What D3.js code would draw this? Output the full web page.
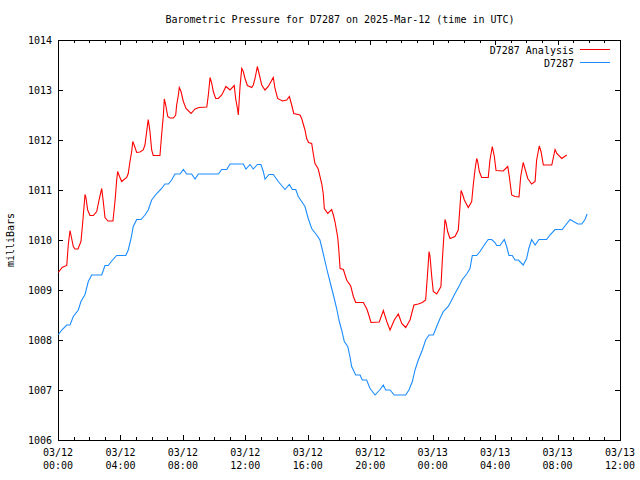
<!DOCTYPE html>
<html>
<head>
<meta charset="utf-8">
<script src="https://cdn.jsdelivr.net/npm/d3@7/dist/d3.min.js"></script>
<style>
  body { margin: 0; background: #fff; }
  svg text { font-family: "DejaVu Sans Mono", monospace; font-size: 10px; fill: #000; }
</style>
</head>
<body>
<svg id="chart" width="640" height="480"></svg>
<script>
// Hours since 03/12 00:00 UTC and pressure (mbar)
const analysisHours = [0.02,0.26,0.56,0.66,0.77,0.83,0.98,1.09,1.28,1.47,1.58,1.73,1.79,1.90,2.05,2.26,2.48,2.65,2.80,2.90,3.01,3.20,3.52,3.65,3.76,3.82,3.94,4.08,4.40,4.50,4.61,4.72,4.79,4.89,5.04,5.25,5.46,5.57,5.68,5.78,5.89,6.00,6.10,6.53,6.64,6.75,6.81,6.90,7.03,7.17,7.39,7.54,7.60,7.71,7.77,7.88,8.03,8.20,8.52,8.78,9.03,9.53,9.63,9.74,9.85,9.95,10.10,10.27,10.49,10.76,11.02,11.29,11.38,11.51,11.55,11.66,11.77,11.87,11.98,12.13,12.41,12.51,12.62,12.77,12.88,13.05,13.26,13.47,13.79,13.90,14.07,14.37,14.65,14.82,14.97,15.10,15.50,15.61,15.82,15.93,16.05,16.25,16.35,16.46,16.67,16.89,16.99,17.06,17.28,17.53,17.64,17.74,17.92,18.00,18.07,18.28,18.49,18.75,18.92,19.07,19.56,19.77,19.88,20.05,20.58,20.84,21.06,21.27,21.54,21.80,22.02,22.27,22.55,22.80,23.08,23.34,23.55,23.66,23.77,23.83,23.94,24.04,24.26,24.53,24.62,24.68,24.79,24.85,24.96,25.11,25.43,25.64,25.75,25.82,25.90,26.03,26.28,26.50,26.60,26.71,26.82,26.88,26.99,27.14,27.56,27.67,27.82,27.95,28.06,28.52,28.81,28.91,29.06,29.27,29.53,29.64,29.80,29.91,30.09,30.34,30.56,30.66,30.83,30.94,31.09,31.63,31.84,31.95,32.27,32.59];
const analysisValues = [1009.35,1009.45,1009.49,1009.91,1010.19,1010.10,1009.87,1009.82,1009.82,1009.97,1010.34,1010.91,1010.85,1010.60,1010.49,1010.49,1010.57,1010.83,1011.03,1010.77,1010.45,1010.38,1010.38,1010.77,1011.20,1011.37,1011.27,1011.17,1011.25,1011.33,1011.57,1011.77,1011.97,1011.89,1011.75,1011.76,1011.80,1011.90,1012.17,1012.41,1012.17,1011.80,1011.69,1011.69,1012.11,1012.50,1012.82,1012.70,1012.47,1012.44,1012.44,1012.50,1012.70,1012.90,1013.05,1012.97,1012.77,1012.63,1012.53,1012.62,1012.65,1012.66,1012.90,1013.25,1013.13,1012.97,1012.83,1012.83,1012.90,1013.07,1013.00,1013.09,1012.83,1012.60,1012.50,1013.07,1013.43,1013.37,1013.23,1013.09,1013.05,1013.10,1013.23,1013.47,1013.33,1013.10,1013.00,1013.07,1013.25,1013.03,1012.83,1012.78,1012.80,1012.87,1012.70,1012.53,1012.50,1012.43,1012.20,1012.03,1011.95,1011.93,1011.73,1011.53,1011.42,1011.13,1010.93,1010.63,1010.53,1010.61,1010.50,1010.37,1010.05,1009.75,1009.43,1009.41,1009.20,1009.08,1008.87,1008.75,1008.75,1008.63,1008.53,1008.35,1008.36,1008.59,1008.37,1008.20,1008.40,1008.52,1008.33,1008.25,1008.40,1008.70,1008.72,1008.75,1008.80,1009.27,1009.77,1009.67,1009.27,1008.97,1008.92,1009.07,1009.60,1009.90,1010.41,1010.35,1010.17,1010.03,1010.07,1010.20,1010.67,1010.99,1010.93,1010.80,1010.65,1010.77,1011.10,1011.40,1011.63,1011.57,1011.37,1011.25,1011.25,1011.60,1011.87,1011.67,1011.39,1011.38,1011.47,1011.27,1010.90,1010.87,1010.86,1011.27,1011.55,1011.43,1011.23,1011.12,1011.17,1011.60,1011.88,1011.77,1011.50,1011.50,1011.81,1011.73,1011.63,1011.70];

const obsHours = [0.02,0.24,0.56,0.77,0.98,1.30,1.47,1.73,1.94,2.16,2.80,3.01,3.22,3.44,3.76,4.34,4.50,4.68,4.82,5.04,5.32,5.57,5.78,6.00,6.32,6.64,6.85,7.07,7.28,7.49,7.82,8.03,8.24,8.56,8.78,8.99,10.27,10.49,10.81,11.02,11.87,12.04,12.30,12.51,12.77,13.00,13.15,13.26,13.52,13.79,14.11,14.54,14.82,15.01,15.23,15.39,15.61,15.82,16.03,16.25,16.57,16.78,16.99,17.21,17.42,17.64,17.85,18.02,18.17,18.34,18.56,18.70,18.81,19.07,19.35,19.49,19.77,19.99,20.31,20.63,20.84,20.99,21.27,21.54,22.27,22.48,22.70,22.87,23.08,23.34,23.55,23.77,24.04,24.26,24.47,24.68,25.00,25.22,25.43,25.75,25.90,26.18,26.39,26.54,26.82,27.03,27.35,27.56,27.78,27.99,28.10,28.31,28.59,28.74,28.89,29.10,29.27,29.49,29.80,30.02,30.16,30.34,30.56,30.81,31.30,31.51,31.84,32.30,32.80,33.30,33.55,33.76,33.89];
const obsValues = [1008.11,1008.20,1008.30,1008.30,1008.47,1008.60,1008.77,1008.91,1009.17,1009.30,1009.30,1009.49,1009.49,1009.58,1009.69,1009.69,1009.80,1010.03,1010.27,1010.41,1010.41,1010.50,1010.60,1010.80,1010.93,1011.03,1011.12,1011.12,1011.20,1011.32,1011.32,1011.41,1011.32,1011.32,1011.22,1011.32,1011.32,1011.41,1011.41,1011.52,1011.52,1011.42,1011.51,1011.42,1011.51,1011.51,1011.37,1011.22,1011.31,1011.31,1011.17,1011.01,1011.11,1011.01,1011.01,1010.87,1010.77,1010.67,1010.43,1010.23,1010.10,1010.00,1009.73,1009.43,1009.17,1008.90,1008.63,1008.37,1008.20,1007.97,1007.87,1007.67,1007.47,1007.30,1007.30,1007.20,1007.20,1007.03,1006.90,1007.01,1007.10,1007.00,1007.00,1006.90,1006.90,1007.00,1007.17,1007.40,1007.60,1007.80,1008.00,1008.10,1008.10,1008.27,1008.43,1008.57,1008.67,1008.80,1008.93,1009.11,1009.21,1009.32,1009.43,1009.69,1009.69,1009.77,1009.92,1010.01,1010.01,1009.95,1009.89,1009.89,1010.01,1009.87,1009.69,1009.69,1009.60,1009.60,1009.50,1009.63,1009.83,1010.01,1009.90,1010.01,1010.01,1010.10,1010.21,1010.21,1010.41,1010.32,1010.32,1010.41,1010.52];

const xTickHours = [0,4,8,12,16,20,24,28,32,36];
const xTickDates = ["03/12","03/12","03/12","03/12","03/12","03/12","03/13","03/13","03/13","03/13"];
const xTickTimes = ["00:00","04:00","08:00","12:00","16:00","20:00","00:00","04:00","08:00","12:00"];
const yTicks = [1006,1007,1008,1009,1010,1011,1012,1013,1014];
const seriesNames = ["D7287 Analysis","D7287"];
const seriesColors = ["#ff0000","#1a8cff"];
const titleText = "Barometric Pressure for D7287 on 2025-Mar-12 (time in UTC)";

const svg = d3.select("#chart");
const L = 58, R = 620, T = 40, B = 440;
const x = d3.scaleLinear().domain([0,36]).range([L,R]);
const y = d3.scaleLinear().domain([1006,1014]).range([B,T]);

const minorHours = d3.range(0,37).filter(h => h % 4 !== 0);
function addAxis(gen, tx, ty) {
  const g = svg.append("g").attr("transform",`translate(${tx},${ty})`).call(gen);
  g.select(".domain").remove();
  g.selectAll("line").attr("stroke","#000").attr("shape-rendering","crispEdges");
  return g;
}
addAxis(d3.axisBottom(x).tickValues(xTickHours).tickSize(-5).tickFormat(""), 0, B);
addAxis(d3.axisBottom(x).tickValues(minorHours).tickSize(-3).tickFormat(""), 0, B);
addAxis(d3.axisTop(x).tickValues(xTickHours).tickSize(-5).tickFormat(""), 0, T);
addAxis(d3.axisTop(x).tickValues(minorHours).tickSize(-3).tickFormat(""), 0, T);
const gyl = addAxis(d3.axisLeft(y).tickValues(yTicks).tickSize(-5).tickFormat(d3.format("d")), L, 0);
gyl.selectAll("text").attr("x",-6).attr("dy","0.32em").style("font-family",'"DejaVu Sans Mono", monospace').style("font-size","10px");
addAxis(d3.axisRight(y).tickValues(yTicks).tickSize(-5).tickFormat(""), R, 0);

// x tick labels, two lines
const xl = svg.append("g");
xTickHours.forEach((h,i) => {
  const t = xl.append("text").attr("x", x(h)).attr("y", 456).attr("text-anchor","middle");
  t.append("tspan").attr("x", x(h)).text(xTickDates[i]);
  t.append("tspan").attr("x", x(h)).attr("dy", 13).text(xTickTimes[i]);
});

// border
svg.append("rect").attr("x",L).attr("y",T).attr("width",R-L).attr("height",B-T)
  .attr("fill","none").attr("stroke","#000").attr("shape-rendering","crispEdges");

// title and y label
svg.append("text").attr("x", 340).attr("y", 23).attr("text-anchor","middle").text(titleText);
svg.append("text").attr("transform","translate(14,240) rotate(-90)").attr("text-anchor","middle").text("milliBars");

// lines
const line = d3.line().x(d => x(d[0])).y(d => y(d[1]));
const series = [
  d3.zip(analysisHours, analysisValues),
  d3.zip(obsHours, obsValues)
];
series.forEach((s,i) => {
  svg.append("path").datum(s).attr("d", line).attr("fill","none")
    .attr("stroke", seriesColors[i]).attr("stroke-width",1.1);
});

// legend
seriesNames.forEach((n,i) => {
  const ly = 49.5 + i*13;
  svg.append("text").attr("x", 574).attr("y", ly+4).attr("text-anchor","end").text(n);
  svg.append("line").attr("x1",580).attr("x2",610).attr("y1",ly).attr("y2",ly)
    .attr("stroke", seriesColors[i]).attr("stroke-width",1).attr("shape-rendering","crispEdges");
});
</script>
</body>
</html>
